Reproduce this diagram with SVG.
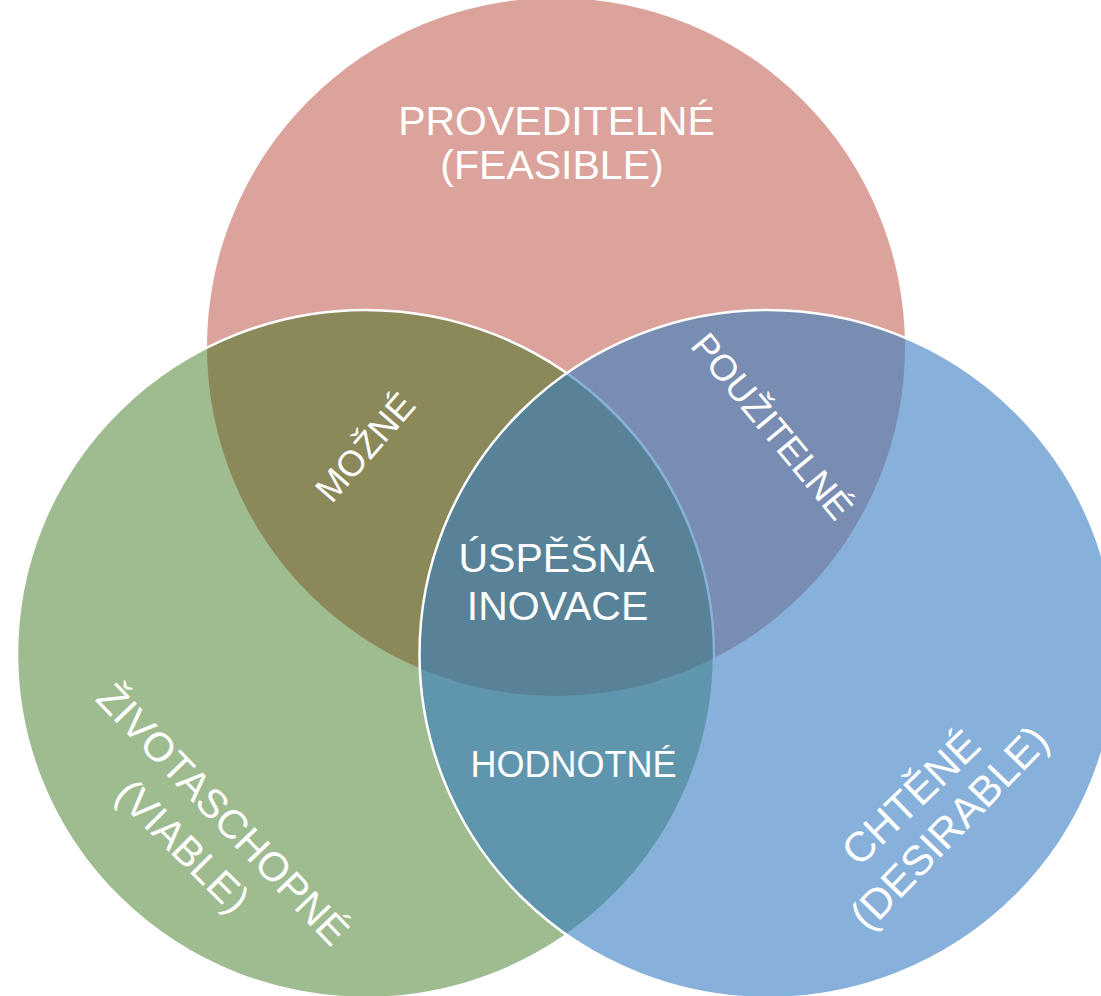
<svg xmlns="http://www.w3.org/2000/svg" width="1101" height="996" viewBox="0 0 1101 996">
<style>
  .lbl { font-family: "Liberation Sans", Arial, sans-serif; fill: #ffffff; text-anchor: middle; }
  .ring { stroke: #ffffff; stroke-width: 2.5; }
</style>
<rect width="1101" height="996" fill="#ffffff"/>
<g id="feasible">
  <circle cx="556" cy="347" r="349" fill="#DBA39B"/>
</g>
<g id="viable">
  <ellipse class="ring" cx="365.5" cy="654" rx="348.5" ry="344" fill="rgb(46,107,14)" fill-opacity="0.46"/>
</g>
<g id="desirable">
  <ellipse class="ring" cx="768" cy="654" rx="348.5" ry="344" fill="rgb(55,125,193)" fill-opacity="0.6"/>
</g>
<g id="labels">
  <text class="lbl" font-size="41" x="556.5" y="135">PROVEDITELNÉ</text>
  <text class="lbl" font-size="41" x="552" y="179">(FEASIBLE)</text>
  <text class="lbl" font-size="41" x="556.5" y="572">ÚSPĚŠNÁ</text>
  <text class="lbl" font-size="41" x="557.5" y="620">INOVACE</text>
  <text class="lbl" font-size="36" x="573.5" y="777">HODNOTNÉ</text>
  <text class="lbl" font-size="36" transform="translate(374.5,455.5) rotate(-49)">MOŽNÉ</text>
  <text class="lbl" font-size="36.5" transform="translate(762.4,434.3) rotate(50.3)">POUŽITELNÉ</text>
  <text class="lbl" font-size="40.5" transform="translate(213,823.9) rotate(46.3)">ŽIVOTASCHOPNÉ</text>
  <text class="lbl" font-size="40.5" transform="translate(173,856) rotate(45)">(VIABLE)</text>
  <text class="lbl" font-size="42" transform="translate(920.8,808.1) rotate(-44)">CHTĚNÉ</text>
  <text class="lbl" font-size="42" transform="translate(959.6,837.6) rotate(-46)">(DESIRABLE)</text>
</g>
</svg>
